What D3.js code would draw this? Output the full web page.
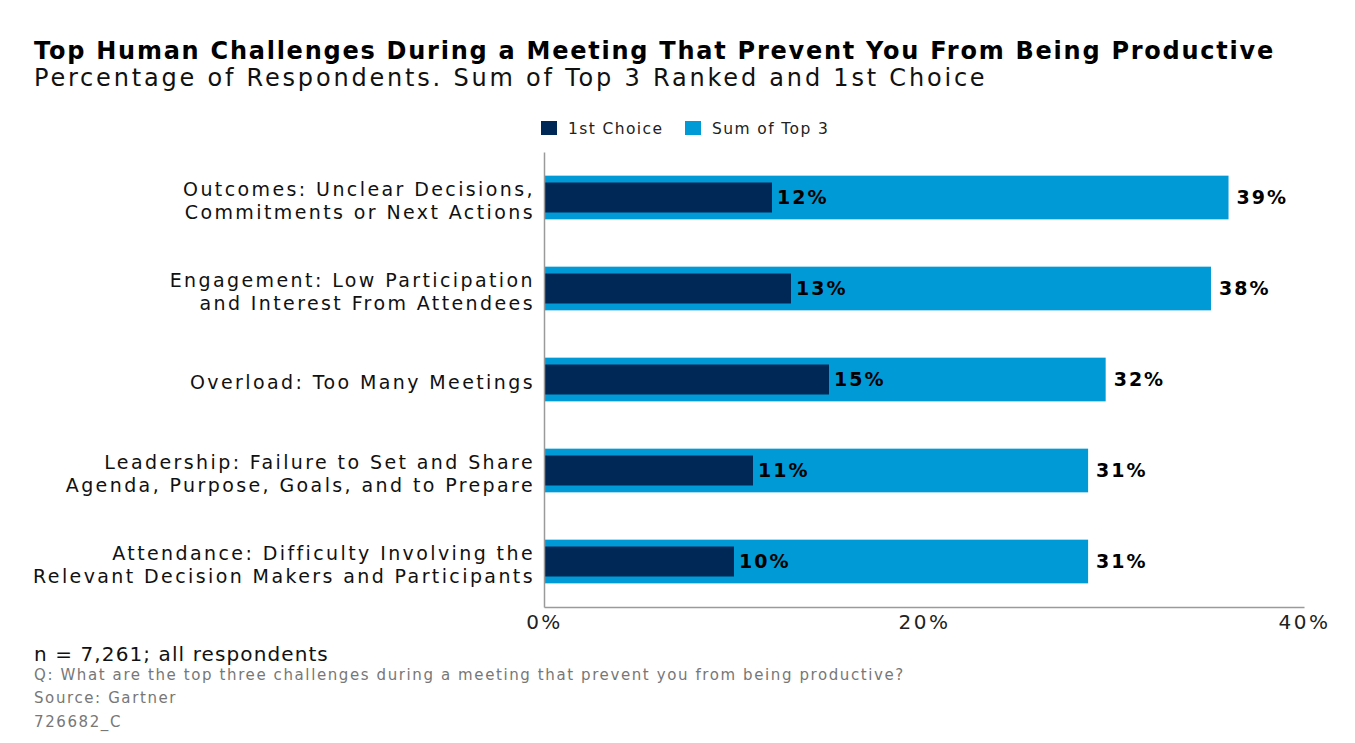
<!DOCTYPE html>
<html>
<head>
<meta charset="utf-8">
<script src="https://cdn.jsdelivr.net/npm/d3@7"></script>
<style>
  body { margin: 0; background: #fff; overflow: hidden; }
  svg { display: block; }
  text { font-family: "DejaVu Sans", sans-serif; }
</style>
</head>
<body>
<div id="chart"></div>
<script>
// Data
const categories = [
  ['Outcomes: Unclear Decisions,', 'Commitments or Next Actions'],
  ['Engagement: Low Participation', 'and Interest From Attendees'],
  ['Overload: Too Many Meetings'],
  ['Leadership: Failure to Set and Share', 'Agenda, Purpose, Goals, and to Prepare'],
  ['Attendance: Difficulty Involving the', 'Relevant Decision Makers and Participants']
];
const firstChoice = [12, 13, 15, 11, 10];
const sumTop3 = [39, 38, 32, 31, 31];
const seriesNames = ['1st Choice', 'Sum of Top 3'];
const xTicks = [0, 20, 40];

const colors = { first: '#002856', sum: '#009ad7' };

const width = 1355;
const height = 743;
const margin = { top: 152, right: 51, bottom: 136, left: 544 };
const innerWidth = width - margin.left - margin.right;
const innerHeight = height - margin.top - margin.bottom;

const svg = d3.select('#chart')
  .append('svg')
  .attr('width', width)
  .attr('height', height);

// Titles
svg.append('text')
  .attr('x', 34).attr('y', 59)
  .style('font-size', '24px').style('font-weight', 'bold')
  .style('letter-spacing', '1.75px')
  .attr('fill', '#000')
  .text('Top Human Challenges During a Meeting That Prevent You From Being Productive');

svg.append('text')
  .attr('x', 34).attr('y', 86)
  .style('font-size', '24px')
  .style('letter-spacing', '2.8px')
  .attr('fill', '#111')
  .text('Percentage of Respondents. Sum of Top 3 Ranked and 1st Choice');

// Scales
const x = d3.scaleLinear().domain([0, 40]).range([0, innerWidth]);
// the sum bars in the original are drawn shorter than their labels
const xSum = d3.scaleLinear().domain([0, 43.3]).range([0, innerWidth]);

const y = d3.scaleBand()
  .domain(d3.range(categories.length))
  .range([0, innerHeight])
  .paddingInner(0.52)
  .paddingOuter(0.26);

const g = svg.append('g')
  .attr('transform', `translate(${margin.left},${margin.top})`);

const rows = g.selectAll('.row')
  .data(d3.range(categories.length))
  .enter()
  .append('g')
  .attr('class', 'row')
  .attr('transform', (i) => `translate(0,${y(i)})`);

const bw = y.bandwidth();
const darkH = 30;

rows.append('rect')
  .attr('x', 0)
  .attr('y', 0)
  .attr('width', (i) => xSum(sumTop3[i]))
  .attr('height', bw)
  .attr('fill', colors.sum);

rows.append('rect')
  .attr('x', 0)
  .attr('y', (bw - darkH) / 2)
  .attr('width', (i) => x(firstChoice[i]))
  .attr('height', darkH)
  .attr('fill', colors.first);

rows.append('text')
  .attr('x', (i) => x(firstChoice[i]) + 5)
  .attr('y', bw / 2)
  .attr('dy', '0.36em')
  .style('font-size', '19px').style('font-weight', 'bold')
  .style('letter-spacing', '2px')
  .attr('fill', '#000')
  .text((i) => firstChoice[i] + '%');

rows.append('text')
  .attr('x', (i) => xSum(sumTop3[i]) + 8)
  .attr('y', bw / 2)
  .attr('dy', '0.36em')
  .style('font-size', '19px').style('font-weight', 'bold')
  .style('letter-spacing', '2px')
  .attr('fill', '#000')
  .text((i) => sumTop3[i] + '%');

// Category labels
const labelX = -9;
rows.append('text')
  .attr('x', labelX)
  .attr('y', bw / 2)
  .attr('text-anchor', 'end')
  .style('font-size', '19px')
  .style('letter-spacing', '2.4px')
  .attr('fill', '#111')
  .each(function (i) {
    const lines = categories[i];
    const t = d3.select(this);
    lines.forEach((line, k) => {
      t.append('tspan')
        .attr('x', labelX)
        .attr('dy', k === 0 ? `${0.52 - (lines.length - 1) * 0.6}em` : '1.2em')
        .text(line);
    });
  });

// Axes
const xAxis = d3.axisBottom(x)
  .tickValues(xTicks)
  .tickSize(0)
  .tickPadding(8)
  .tickFormat((d) => d + '%');

const xg = g.append('g')
  .attr('transform', `translate(0,${innerHeight})`)
  .call(xAxis);
xg.select('.domain').attr('stroke', '#9a9a9a').attr('stroke-width', 1.5);
xg.selectAll('text')
  .style('font-size', '20px')
  .style('font-family', '"DejaVu Sans", sans-serif')
  .style('letter-spacing', '2.5px')
  .attr('fill', '#222');

const yg = g.append('g')
  .call(d3.axisLeft(y).tickSize(0).tickFormat(''));
yg.select('.domain').attr('stroke', '#9a9a9a').attr('stroke-width', 1.5);

// Legend
const legend = svg.append('g').attr('transform', 'translate(541,121)');
const legendX = [0, 144];
seriesNames.forEach((name, k) => {
  const item = legend.append('g').attr('transform', `translate(${legendX[k]},0)`);
  item.append('rect')
    .attr('width', 16).attr('height', 14)
    .attr('fill', k === 0 ? colors.first : colors.sum);
  item.append('text')
    .attr('x', 27).attr('y', 7).attr('dy', '0.36em')
    .style('font-size', '15.5px')
    .style('letter-spacing', '1.4px')
    .attr('fill', '#222')
    .text(name);
});

// Footnotes
svg.append('text')
  .attr('x', 34).attr('y', 661)
  .style('font-size', '20px')
  .style('letter-spacing', '1.1px')
  .attr('fill', '#111')
  .text('n = 7,261; all respondents');

const notes = [
  'Q: What are the top three challenges during a meeting that prevent you from being productive?',
  'Source: Gartner',
  '726682_C'
];
svg.selectAll('.note')
  .data(notes)
  .enter()
  .append('text')
  .attr('class', 'note')
  .attr('x', 34)
  .attr('y', (d, k) => 679.5 + k * 23.5)
  .style('font-size', '15px')
  .style('letter-spacing', '1.6px')
  .attr('fill', '#777')
  .text((d) => d);
</script>
</body>
</html>
